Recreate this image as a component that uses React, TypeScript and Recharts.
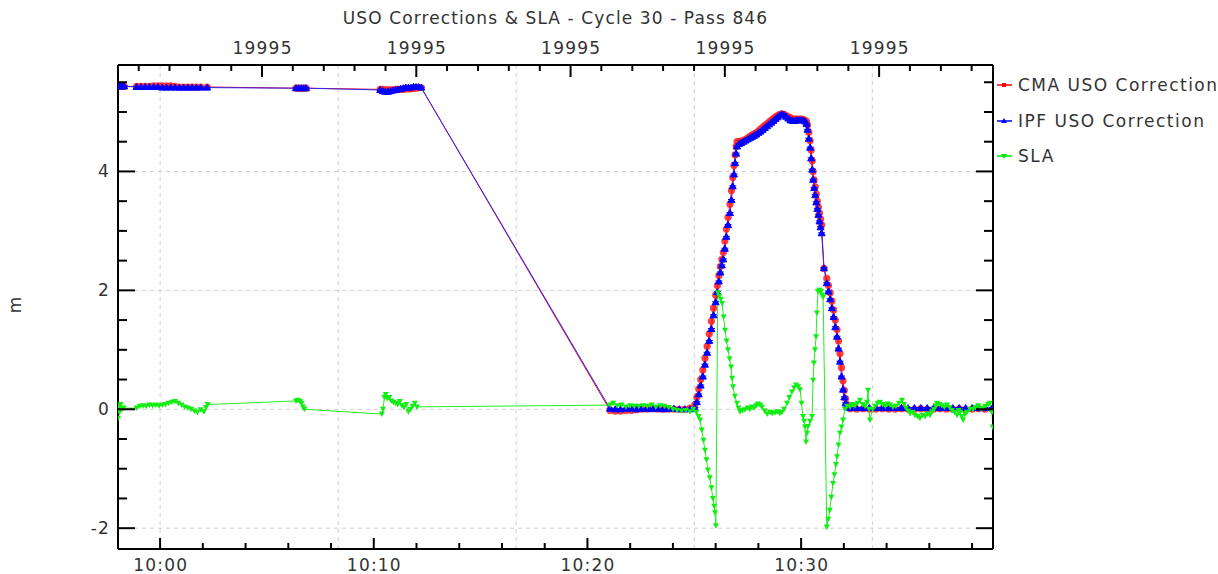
import React from 'react';
import { ComposedChart, Line, XAxis, YAxis, ReferenceLine } from 'recharts';

const W = 1218;
const H = 574;
const FONT = '"DejaVu Sans", sans-serif';
const TEXT = '#333333';
const SPACING = 1.2;

const title = 'USO Corrections & SLA - Cycle 30 - Pass 846';
const yLabel = 'm';
const seriesNames = ['CMA USO Correction', 'IPF USO Correction', 'SLA'];
const seriesColors = ['#ff0000', '#0000ff', '#00ee00'];

// x values are minutes after 10:00
const xDomain = [-1.97, 38.98];
const yDomain = [-2.35, 5.79];

const bottomTicks = [0, 2, 4, 6, 8, 10, 12, 14, 16, 18, 20, 22, 24, 26, 28, 30, 32, 34, 36, 38];
const bottomLabels: Record<number, string> = { 0: '10:00', 10: '10:10', 20: '10:20', 30: '10:30' };
const topTicks = [-1.0, 0.44, 1.88, 3.33, 4.77, 6.21, 7.66, 9.1, 10.55, 11.99, 13.43, 14.88, 16.32, 17.77,
  19.21, 20.65, 22.1, 23.54, 24.99, 26.43, 27.87, 29.32, 30.76, 32.21, 33.65, 35.09, 36.54, 37.98];
const topMajor = [4.77, 11.99, 19.21, 26.43, 33.65];
const topLabel = '19995';
const yTicks = [-2, -1.5, -1, -0.5, 0, 0.5, 1, 1.5, 2, 2.5, 3, 3.5, 4, 4.5, 5, 5.5];
const yLabels = [-2, 0, 2, 4];
const gridX = [0, 8.333, 16.667, 25, 33.333];
const gridY = [-2, 0, 2, 4];

const cmaUso: [number, number][] = [
  [-1.97, 5.43], [-1.88, 5.43], [-1.78, 5.43], [-1.68, 5.43],
  [-1.1, 5.43], [-0.9, 5.43], [-0.7, 5.43], [-0.5, 5.43], [-0.3, 5.44], [-0.1, 5.44], [0.1, 5.44], [0.3, 5.44],
  [0.5, 5.44], [0.7, 5.43], [0.9, 5.42], [1.1, 5.42], [1.3, 5.42], [1.5, 5.42], [1.7, 5.42], [1.9, 5.42], [2.2, 5.42],
  [6.36, 5.4], [6.48, 5.4], [6.6, 5.4], [6.72, 5.4], [6.83, 5.4],
  [10.3, 5.38], [10.42, 5.38], [10.54, 5.37], [10.66, 5.37], [10.78, 5.37], [10.9, 5.37], [11.02, 5.38], [11.14, 5.38],
  [11.26, 5.38], [11.38, 5.38], [11.5, 5.39], [11.62, 5.39], [11.74, 5.39], [11.86, 5.4], [11.98, 5.4], [12.1, 5.41], [12.22, 5.41],
  [21.06, -0.02], [21.3, -0.03], [21.55, -0.03], [21.8, -0.02], [22.05, -0.02], [22.3, -0.01], [22.55, 0], [22.8, 0],
  [23.05, 0.01], [23.3, 0], [23.55, 0], [23.8, 0], [24.05, 0], [24.3, 0], [24.55, 0], [24.8, 0.02],
  [25.03, 0.08], [25.12, 0.2], [25.21, 0.34], [25.3, 0.5], [25.4, 0.66], [25.5, 0.86], [25.6, 1.06], [25.7, 1.27],
  [25.8, 1.48], [25.9, 1.7], [26.0, 1.92], [26.08, 2.08], [26.15, 2.25], [26.22, 2.4], [26.29, 2.52], [26.36, 2.64],
  [26.43, 2.83], [26.5, 3.03], [26.58, 3.23], [26.67, 3.45], [26.74, 3.68], [26.8, 3.9], [26.86, 4.1], [26.91, 4.28],
  [26.96, 4.42], [27.0, 4.5],
  [27.1, 4.5], [27.2, 4.51], [27.3, 4.52], [27.4, 4.54], [27.5, 4.56], [27.6, 4.59], [27.7, 4.61], [27.8, 4.63],
  [27.9, 4.65], [28.0, 4.68], [28.1, 4.71], [28.2, 4.74], [28.3, 4.77], [28.4, 4.8], [28.5, 4.83], [28.6, 4.86],
  [28.7, 4.89], [28.8, 4.92], [28.9, 4.94], [29.0, 4.96], [29.1, 4.97], [29.2, 4.96], [29.3, 4.94], [29.4, 4.92],
  [29.5, 4.9], [29.6, 4.88], [29.7, 4.88], [29.8, 4.88], [29.9, 4.88], [30.0, 4.88], [30.1, 4.87], [30.18, 4.86], [30.25, 4.84],
  [30.3, 4.78], [30.36, 4.66], [30.42, 4.52], [30.47, 4.36], [30.52, 4.18], [30.56, 4.0], [30.61, 3.86], [30.66, 3.74],
  [30.71, 3.62], [30.76, 3.5], [30.81, 3.4], [30.86, 3.3], [30.91, 3.2], [30.96, 3.1],
  [31.07, 2.37], [31.2, 2.2], [31.28, 2.08], [31.36, 1.96], [31.44, 1.82], [31.52, 1.67], [31.6, 1.5], [31.68, 1.34],
  [31.75, 1.15], [31.82, 0.94], [31.89, 0.7], [31.96, 0.48], [32.02, 0.32], [32.08, 0.18], [32.15, 0.08],
  [32.3, 0.01], [32.6, 0], [32.9, 0.01], [33.2, 0], [33.5, 0], [33.8, 0.01], [34.1, 0], [34.4, 0], [34.7, 0.01],
  [35.0, 0], [35.3, 0], [35.6, 0.01], [35.9, 0], [36.2, 0], [36.5, 0.01], [36.8, 0], [37.1, 0], [37.4, 0.01],
  [37.7, 0], [38.0, 0], [38.3, 0.01], [38.6, 0], [38.95, 0],
];

const ipfUso: [number, number][] = [
  [-1.97, 5.43], [-1.88, 5.43], [-1.78, 5.43], [-1.68, 5.43],
  [-1.1, 5.42], [-0.9, 5.42], [-0.7, 5.42], [-0.5, 5.42], [-0.3, 5.42], [-0.1, 5.42], [0.1, 5.41], [0.3, 5.41],
  [0.5, 5.41], [0.7, 5.41], [0.9, 5.41], [1.1, 5.41], [1.3, 5.41], [1.5, 5.41], [1.7, 5.41], [1.9, 5.41], [2.2, 5.41],
  [6.36, 5.4], [6.48, 5.4], [6.6, 5.4], [6.72, 5.4], [6.83, 5.4],
  [10.3, 5.37], [10.42, 5.35], [10.54, 5.34], [10.66, 5.34], [10.78, 5.35], [10.9, 5.36], [11.02, 5.37], [11.14, 5.38],
  [11.26, 5.39], [11.38, 5.4], [11.5, 5.41], [11.62, 5.41], [11.74, 5.41], [11.86, 5.42], [11.98, 5.42], [12.1, 5.42], [12.22, 5.41],
  [21.06, 0.01], [21.3, 0], [21.55, 0], [21.8, 0.01], [22.05, 0.01], [22.3, 0], [22.55, 0.01], [22.8, 0.01],
  [23.05, 0.01], [23.3, 0.01], [23.55, 0], [23.8, 0.01], [24.05, 0.01], [24.3, 0], [24.55, 0], [24.8, 0],
  [25.03, 0.02], [25.12, 0.12], [25.21, 0.25], [25.3, 0.4], [25.4, 0.55], [25.5, 0.75], [25.6, 0.95], [25.7, 1.15],
  [25.8, 1.35], [25.9, 1.58], [26.0, 1.8], [26.08, 1.97], [26.15, 2.15], [26.22, 2.3], [26.29, 2.42], [26.36, 2.52],
  [26.43, 2.7], [26.5, 2.9], [26.58, 3.1], [26.67, 3.3], [26.74, 3.52], [26.8, 3.75], [26.86, 3.95], [26.91, 4.14],
  [26.96, 4.3], [27.0, 4.42],
  [27.1, 4.46], [27.2, 4.48], [27.3, 4.5], [27.4, 4.52], [27.5, 4.54], [27.6, 4.56], [27.7, 4.58], [27.8, 4.6],
  [27.9, 4.62], [28.0, 4.65], [28.1, 4.67], [28.2, 4.7], [28.3, 4.73], [28.4, 4.76], [28.5, 4.79], [28.6, 4.82],
  [28.7, 4.85], [28.8, 4.88], [28.9, 4.91], [29.0, 4.94], [29.1, 4.96], [29.2, 4.95], [29.3, 4.92], [29.4, 4.89],
  [29.5, 4.86], [29.6, 4.85], [29.7, 4.85], [29.8, 4.86], [29.9, 4.86], [30.0, 4.86], [30.1, 4.86], [30.18, 4.84], [30.25, 4.8],
  [30.3, 4.7], [30.36, 4.55], [30.42, 4.4], [30.47, 4.22], [30.52, 4.03], [30.56, 3.86], [30.61, 3.72], [30.66, 3.6],
  [30.71, 3.48], [30.76, 3.37], [30.81, 3.27], [30.86, 3.16], [30.91, 3.06], [30.96, 2.96],
  [31.07, 2.37], [31.2, 2.12], [31.28, 1.98], [31.36, 1.85], [31.44, 1.7], [31.52, 1.55], [31.6, 1.38], [31.68, 1.22],
  [31.75, 1.02], [31.82, 0.8], [31.89, 0.55], [31.96, 0.33], [32.02, 0.2], [32.08, 0.1], [32.15, 0.04],
  [32.3, 0.02], [32.6, 0.02], [32.9, 0.02], [33.2, 0.02], [33.5, 0.02], [33.8, 0.02], [34.1, 0.02], [34.4, 0.02], [34.7, 0.02],
  [35.0, 0.02], [35.3, 0.02], [35.6, 0.02], [35.9, 0.02], [36.2, 0.02], [36.5, 0.02], [36.8, 0.02], [37.1, 0.02], [37.4, 0.02],
  [37.7, 0.02], [38.0, 0.02], [38.3, 0.02], [38.6, 0.02], [38.95, 0.02],
];

const sla: [number, number][] = [
  [-1.97, -0.15], [-1.94, 0.05], [-1.9, -0.05], [-1.85, 0.08], [-1.78, 0], [-1.7, 0.02],
  [-1.1, 0.02], [-0.95, 0.05], [-0.8, 0.06], [-0.65, 0.05], [-0.5, 0.07], [-0.35, 0.06], [-0.2, 0.07], [-0.05, 0.06],
  [0.1, 0.07], [0.25, 0.08], [0.4, 0.1], [0.55, 0.12], [0.7, 0.13], [0.85, 0.1], [1.0, 0.07], [1.15, 0.04],
  [1.3, 0.02], [1.45, 0], [1.6, -0.03], [1.75, -0.05], [1.9, -0.01], [2.05, -0.04], [2.15, 0.03], [2.22, 0.08],
  [6.36, 0.14], [6.45, 0.15], [6.55, 0.13], [6.62, 0.1], [6.69, 0.04], [6.75, 0],
  [10.38, -0.08], [10.43, 0], [10.5, 0.2], [10.56, 0.25], [10.63, 0.18], [10.72, 0.2], [10.82, 0.14], [10.92, 0.12],
  [11.02, 0.1], [11.12, 0.08], [11.22, 0.13], [11.32, 0.06], [11.42, 0.03], [11.52, 0.08], [11.62, -0.04], [11.72, 0],
  [11.82, 0.05], [11.92, 0.1], [12.02, 0.04],
  [21.06, 0.07], [21.2, 0.1], [21.4, 0.06], [21.6, 0.07], [21.8, 0.04], [22.0, 0.06], [22.2, 0.05], [22.4, 0.05],
  [22.6, 0.06], [22.8, 0.05], [23.0, 0.07], [23.2, 0.04], [23.4, 0.06], [23.6, 0.05], [23.8, 0.03], [24.0, 0],
  [24.2, -0.02], [24.4, -0.03], [24.6, -0.02], [24.8, -0.04], [24.95, 0],
  [25.1, -0.05], [25.2, -0.12], [25.27, -0.18], [25.35, -0.35], [25.43, -0.52], [25.5, -0.69], [25.57, -0.85],
  [25.64, -1.02], [25.72, -1.15], [25.8, -1.32], [25.87, -1.5], [25.93, -1.63], [25.97, -1.74], [26.01, -1.96],
  [26.1, 1.96], [26.17, 1.9], [26.24, 1.85], [26.3, 1.78], [26.37, 1.55], [26.44, 1.33], [26.51, 1.15], [26.58, 1.0],
  [26.65, 0.85], [26.72, 0.71], [26.77, 0.52], [26.81, 0.38], [26.9, 0.22], [27.0, 0.1], [27.07, 0.02], [27.14, -0.04],
  [27.25, -0.02], [27.37, -0.01], [27.5, 0.02], [27.6, 0], [27.7, 0.04], [27.8, 0.02], [27.9, 0.06], [27.98, 0.09],
  [28.08, 0.07], [28.17, 0.04], [28.3, -0.03], [28.41, -0.08], [28.55, -0.05], [28.65, -0.07], [28.78, -0.06],
  [28.9, -0.04], [29.0, -0.07], [29.1, -0.05], [29.2, 0], [29.34, 0.1], [29.45, 0.2], [29.57, 0.29], [29.67, 0.36],
  [29.76, 0.41], [29.86, 0.38], [29.95, 0.33], [30.02, 0.1], [30.09, -0.12], [30.14, -0.2], [30.18, -0.3],
  [30.23, -0.55], [30.28, -0.4], [30.32, -0.29], [30.42, -0.2], [30.51, -0.12],
  [30.56, 0.49], [30.6, 0.78], [30.65, 1.0], [30.7, 1.22], [30.74, 1.62], [30.79, 1.98], [30.86, 2.0], [30.93, 1.98],
  [30.98, 1.92], [31.03, 1.89],
  [31.2, -1.98], [31.27, -1.85], [31.34, -1.7], [31.41, -1.48], [31.49, -1.25], [31.56, -1.1], [31.63, -0.93],
  [31.68, -0.8], [31.75, -0.6], [31.82, -0.4], [31.89, -0.3], [31.96, -0.18], [32.05, 0],
  [32.15, 0.05], [32.29, 0.04], [32.4, 0.08], [32.52, 0.06], [32.64, 0.1], [32.76, 0.15], [32.88, 0.08], [32.99, 0.05],
  [33.08, 0.12], [33.13, 0.32], [33.18, 0], [33.22, -0.18], [33.35, 0], [33.46, 0.05], [33.58, 0.1], [33.69, 0.12],
  [33.81, 0.08], [33.93, 0.06], [34.05, 0.09], [34.16, 0.07], [34.3, 0.04], [34.44, 0.05], [34.58, 0.1], [34.72, 0.15],
  [34.82, 0.08], [34.91, 0.02], [35.0, -0.03], [35.1, -0.07], [35.22, -0.05], [35.33, -0.1], [35.45, -0.12],
  [35.56, -0.15], [35.68, -0.1], [35.8, -0.12], [35.92, -0.08], [36.03, -0.1], [36.12, -0.04], [36.22, 0],
  [36.29, 0.06], [36.36, 0.1], [36.48, 0.08], [36.59, 0.06], [36.71, 0.04], [36.83, 0.07], [36.95, 0.03],
  [37.06, -0.02], [37.18, -0.05], [37.3, -0.1], [37.37, -0.02], [37.44, -0.05], [37.51, -0.12], [37.58, -0.18],
  [37.67, -0.08], [37.76, -0.05], [37.9, 0], [38.04, 0], [38.16, 0.03], [38.28, 0.06], [38.4, 0.01], [38.51, 0.02],
  [38.63, 0.05], [38.75, 0.08], [38.84, 0.1], [38.93, -0.05], [38.97, -0.3],
];

const toRows = (pts: [number, number][]) => pts.map(([t, v]) => ({ t, v }));

function BottomTick({ x, y, payload }: any) {
  const label = bottomLabels[payload.value];
  return (
    <g>
      <line x1={x} x2={x} y1={y} y2={y - (label ? 11 : 6)} stroke="#000" strokeWidth={2} />
      {label && (
        <text x={x + SPACING / 2} y={y + 22} textAnchor="middle" fill={TEXT} fontSize={17} fontFamily={FONT} letterSpacing={SPACING}>
          {label}
        </text>
      )}
    </g>
  );
}

function TopTick({ x, y, payload }: any) {
  const major = topMajor.includes(payload.value);
  return (
    <g>
      <line x1={x} x2={x} y1={y} y2={y + (major ? 12 : 6)} stroke="#000" strokeWidth={2} />
      {major && (
        <text x={x + SPACING / 2} y={y - 11} textAnchor="middle" fill={TEXT} fontSize={17} fontFamily={FONT} letterSpacing={SPACING}>
          {topLabel}
        </text>
      )}
    </g>
  );
}

function LeftTick({ x, y, payload }: any) {
  const major = yLabels.includes(payload.value);
  return (
    <g>
      <line x1={x} x2={x + (major ? 17 : 9)} y1={y} y2={y} stroke="#000" strokeWidth={2} />
      {major && (
        <text x={x - 8} y={y + 6} textAnchor="end" fill={TEXT} fontSize={17} fontFamily={FONT} letterSpacing={SPACING}>
          {payload.value}
        </text>
      )}
    </g>
  );
}

function RightTick({ x, y, payload }: any) {
  const major = yLabels.includes(payload.value);
  return <line x1={x} x2={x - (major ? 17 : 9)} y1={y} y2={y} stroke="#000" strokeWidth={2} />;
}

const redDot = (p: any) => (
  <circle key={`c${p.index}`} cx={p.cx} cy={p.cy} r={3.6} fill="#ff2020" fillOpacity={0.85} />
);
const blueDot = (p: any) => (
  <path
    key={`i${p.index}`}
    d={`M${p.cx - 3.5},${p.cy + 2.5} L${p.cx},${p.cy - 3.5} L${p.cx + 3.5},${p.cy + 2.5} Z M${p.cx - 3.5},${p.cy - 0.5} L${p.cx + 3.5},${p.cy - 0.5}`}
    fill="#0000ff"
    stroke="#0000ff"
    strokeWidth={1}
  />
);
const greenDot = (p: any) => (
  <path
    key={`s${p.index}`}
    d={`M${p.cx - 3},${p.cy - 2.5} L${p.cx + 3},${p.cy - 2.5} L${p.cx},${p.cy + 3} Z`}
    fill="#11ee11"
  />
);

function LegendIcon({ i }: { i: number }) {
  const c = seriesColors[i];
  return (
    <svg width={18} height={20} style={{ display: 'block' }}>
      <line x1={1} x2={16} y1={10} y2={10} stroke={c} strokeWidth={1.5} />
      {i === 0 && <rect x={6} y={8} width={4} height={4} fill={c} />}
      {i === 1 && <path d="M5,12 L8,7 L11,12 Z" fill={c} />}
      {i === 2 && <path d="M5,8 L11,8 L8,13 Z" fill={c} />}
    </svg>
  );
}

export default function App() {
  return (
    <div style={{ position: 'absolute', left: 0, top: 0, width: W, height: H, background: '#fff', fontFamily: FONT }}>
      <ComposedChart width={W} height={H} margin={{ top: 30, right: 215, bottom: 0, left: 58 }}>
        <XAxis
          xAxisId="b"
          dataKey="t"
          type="number"
          domain={xDomain}
          allowDataOverflow
          ticks={bottomTicks}
          interval={0}
          tick={(p: any) => <BottomTick {...p} />}
          tickSize={0}
          tickMargin={0}
          tickLine={false}
          height={25}
          axisLine={{ stroke: '#000', strokeWidth: 2 }}
        />
        <XAxis
          xAxisId="t"
          orientation="top"
          dataKey="t"
          type="number"
          domain={xDomain}
          allowDataOverflow
          ticks={topTicks}
          interval={0}
          tick={(p: any) => <TopTick {...p} />}
          tickSize={0}
          tickMargin={0}
          tickLine={false}
          height={35}
          axisLine={{ stroke: '#000', strokeWidth: 2 }}
        />
        <YAxis
          yAxisId="l"
          type="number"
          domain={yDomain}
          allowDataOverflow
          ticks={yTicks}
          interval={0}
          tick={(p: any) => <LeftTick {...p} />}
          tickSize={0}
          tickMargin={0}
          tickLine={false}
          width={60}
          axisLine={{ stroke: '#000', strokeWidth: 2 }}
        />
        <YAxis
          yAxisId="r"
          orientation="right"
          type="number"
          domain={yDomain}
          allowDataOverflow
          ticks={yTicks}
          interval={0}
          tick={(p: any) => <RightTick {...p} />}
          tickSize={0}
          tickMargin={0}
          tickLine={false}
          width={10}
          axisLine={{ stroke: '#000', strokeWidth: 2 }}
        />
        {gridX.map((v) => (
          <ReferenceLine key={`gx${v}`} xAxisId="b" yAxisId="l" x={v} stroke="#cfcfcf" strokeDasharray="4 4" />
        ))}
        {gridY.map((v) => (
          <ReferenceLine key={`gy${v}`} xAxisId="b" yAxisId="l" y={v} stroke="#cfcfcf" strokeDasharray="4 4" />
        ))}
        <Line
          xAxisId="b"
          yAxisId="l"
          data={toRows(cmaUso)}
          dataKey="v"
          name={seriesNames[0]}
          stroke="#ff0000"
          strokeWidth={1}
          dot={redDot}
          activeDot={false}
          isAnimationActive={false}
        />
        <Line
          xAxisId="b"
          yAxisId="l"
          data={toRows(ipfUso)}
          dataKey="v"
          name={seriesNames[1]}
          stroke="#2a2aff"
          strokeWidth={1}
          dot={blueDot}
          activeDot={false}
          isAnimationActive={false}
        />
        <Line
          xAxisId="b"
          yAxisId="l"
          data={toRows(sla)}
          dataKey="v"
          name={seriesNames[2]}
          stroke="#22ee22"
          strokeWidth={1}
          dot={greenDot}
          activeDot={false}
          isAnimationActive={false}
        />
      </ComposedChart>
      <div
        style={{
          position: 'absolute', left: 0, width: 1111, top: 8, textAlign: 'center',
          fontSize: 17, color: TEXT, whiteSpace: 'nowrap', letterSpacing: 1.1,
        }}
      >
        {title}
      </div>
      <div
        style={{
          position: 'absolute', left: 5, top: 295, width: 20, height: 20, lineHeight: '20px',
          textAlign: 'center', fontSize: 17, color: TEXT, transform: 'rotate(-90deg)',
        }}
      >
        {yLabel}
      </div>
      {seriesNames.map((n, i) => (
        <div
          key={n}
          style={{
            position: 'absolute', left: 996, top: 75 + i * 35.5, height: 20, display: 'flex',
            alignItems: 'center', fontSize: 17, color: TEXT, whiteSpace: 'nowrap', letterSpacing: 1.5,
          }}
        >
          <LegendIcon i={i} />
          <span style={{ marginLeft: 4 }}>{n}</span>
        </div>
      ))}
    </div>
  );
}
